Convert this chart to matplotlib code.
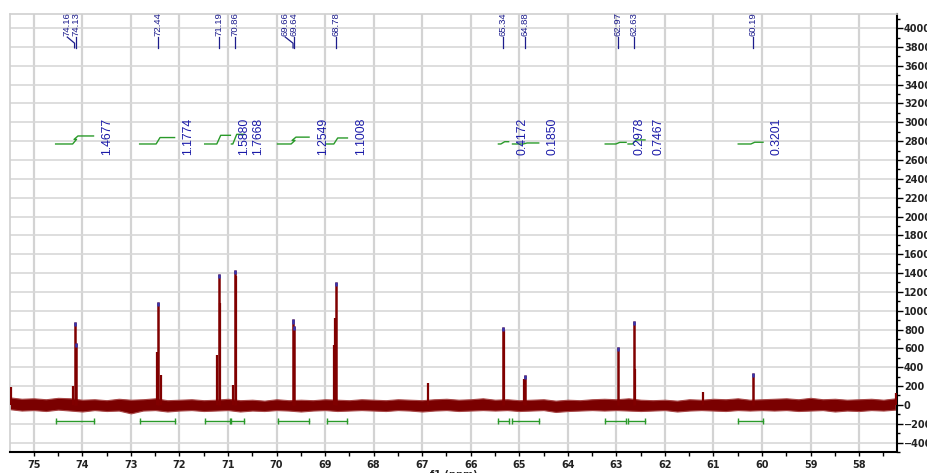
import numpy as np
import matplotlib.pyplot as plt
from matplotlib.ticker import MultipleLocator

# picked peaks (ppm, intensity)
peak_ppm = [74.16, 74.13, 72.44, 71.19, 70.86, 69.66, 69.64, 68.78,
            65.34, 64.88, 62.97, 62.63, 60.19]
peak_height = [880, 660, 1090, 1387, 1432, 907, 835, 1305,
               832, 320, 620, 896, 340]

# unpicked lines / shoulders
extra_ppm = [74.20, 72.47, 72.38, 71.23, 71.17, 70.90, 70.84, 68.80, 68.82,
             65.32, 64.90, 62.61, 66.87, 61.21, 75.46, 57.25]
extra_height = [200, 560, 320, 530, 1080, 210, 1370, 920, 640,
                800, 270, 380, 230, 140, 195, 130]

# baseline noise envelope every 0.25 ppm from 75.5 down to 57.25
baseline_ppm = np.linspace(75.5, 57.25, 74)
noise_high = [80, 65, 70, 60, 75, 70, 55, 60, 50, 65,
              55, 60, 70, 50, 55, 60, 50, 55, 65, 50,
              55, 45, 60, 50, 55, 50, 60, 55, 50, 60,
              55, 50, 60, 55, 50, 60, 65, 55, 60, 70,
              55, 60, 50, 55, 60, 45, 55, 50, 60, 65,
              60, 70, 55, 50, 55, 45, 60, 55, 65, 60,
              70, 55, 60, 65, 70, 60, 75, 60, 65, 55,
              60, 65, 55, 70]
noise_low = [-45, -60, -55, -65, -50, -60, -70, -55, -65, -60,
             -90, -60, -55, -70, -60, -55, -65, -60, -55, -70,
             -60, -65, -55, -60, -70, -60, -55, -65, -60, -55,
             -60, -65, -55, -60, -70, -60, -55, -65, -60, -55,
             -60, -55, -65, -60, -55, -75, -65, -60, -55, -60,
             -55, -60, -65, -60, -55, -70, -60, -55, -60, -65,
             -55, -60, -55, -60, -55, -65, -60, -55, -70, -60,
             -65, -55, -60, -50]

# integral regions (ppm start, ppm end) and values
int_start = [74.55, 72.82, 71.48, 70.93, 69.98, 68.97, 65.43, 65.14, 63.23, 62.76, 60.49]
int_end = [73.77, 72.10, 70.95, 70.66, 69.33, 68.54, 65.22, 64.60, 62.80, 62.41, 59.98]
int_value = [1.4677, 1.1774, 1.5880, 1.7668, 1.2549, 1.1008,
             0.4172, 0.1850, 0.2978, 0.7467, 0.3201]

x_ticks = list(range(58, 76))
y_ticks = list(range(-400, 4001, 200))

red = '#800000'
green = '#2a9a2a'
navy = '#1c1c8c'
bold_font = ['DejaVu Sans']
narrow_font = ['Liberation Sans', 'DejaVu Sans']

fig = plt.figure(figsize=(9.28, 4.73), dpi=100)
ax = fig.add_axes([10 / 928, 21 / 473, 887 / 928, 438 / 473])
ax.set_xlim(75.49, 57.22)
ax.set_ylim(-500, 4150)

# grid
ax.set_axisbelow(True)
ax.set_xticks(x_ticks)
ax.set_yticks(y_ticks)
ax.xaxis.set_minor_locator(MultipleLocator(0.5))
ax.yaxis.set_minor_locator(MultipleLocator(100))
ax.grid(True, axis='x', which='major', color='#d3d3d3', lw=1.6)
ax.grid(True, axis='y', which='major', color='#d8d8d8', lw=1.2)

# spectrum
ax.fill_between(baseline_ppm, noise_low, noise_high, facecolor='#7a0000',
                edgecolor='#a84848', lw=0.8, zorder=2)
ax.vlines(extra_ppm, 0, extra_height, color=red, lw=1.6, zorder=3)
ax.vlines(peak_ppm, 0, peak_height, color=red, lw=1.8, zorder=3)
tips = np.array(peak_height)
ax.vlines(peak_ppm, tips - 45, tips, color='#3535b0', lw=1.8, zorder=4)

# integral curves and region bars
base = 2770
scale = 58
for s, e, v in zip(int_start, int_end, int_value):
    inside = [p for p in peak_ppm if e < p < s]
    hs = [peak_height[peak_ppm.index(p)] for p in inside]
    xs, ys = [s], [base]
    level = base
    for p, h in sorted(zip(inside, hs), reverse=True):
        xs += [p + 0.04, p - 0.04]
        ys += [level, level + v * scale * h / sum(hs)]
        level = ys[-1]
    xs.append(e)
    ys.append(level)
    ax.plot(xs, ys, color=green, lw=1.0, zorder=3)
    ax.plot([s, e], [-170, -170], color=green, lw=1.0, marker='|', ms=5, zorder=3)
    ax.annotate(f'{v:.4f}', (e, 2650), xytext=(10, 0), textcoords='offset points',
                rotation=90, ha='center', va='bottom', fontsize=8.8,
                color='#1a1aa8', family=narrow_font, zorder=5)

# peak labels, pushed apart where they would overlap
label_x = []
prev = None
for p in sorted(peak_ppm):
    x = p if prev is None else max(p, prev + 0.18)
    label_x.append((p, x))
    prev = x
for p, x in label_x:
    ax.text(x, 3915, f'{p:.2f}', rotation=90, ha='center', va='bottom',
            fontsize=6.8, color=navy, family=narrow_font, zorder=5)
    ax.plot([x, p, p], [3905, 3840, 3790], color=navy, lw=0.9, zorder=5)

# axes styling
for side in ['top', 'left']:
    ax.spines[side].set_color('#d0d0d0')
    ax.spines[side].set_linewidth(1.2)
ax.spines['right'].set_linewidth(1.5)
ax.spines['bottom'].set_linewidth(1.5)
ax.yaxis.tick_right()
ax.tick_params(axis='y', which='major', length=4, width=1, pad=1,
               labelsize=7, labelcolor='#222222')
ax.tick_params(axis='y', which='minor', length=2.5, width=1)
ax.tick_params(axis='x', which='major', length=3, width=1, pad=3,
               labelsize=7, labelcolor='#222222')
ax.tick_params(axis='x', which='minor', length=3, width=1)
for lab in ax.get_xticklabels() + ax.get_yticklabels():
    lab.set_fontweight('bold')
    lab.set_family(bold_font)
ax.set_xlabel('f1 (ppm)', fontsize=7, fontweight='bold', labelpad=0, color='#222222')

fig.savefig('out.png', dpi=100)
